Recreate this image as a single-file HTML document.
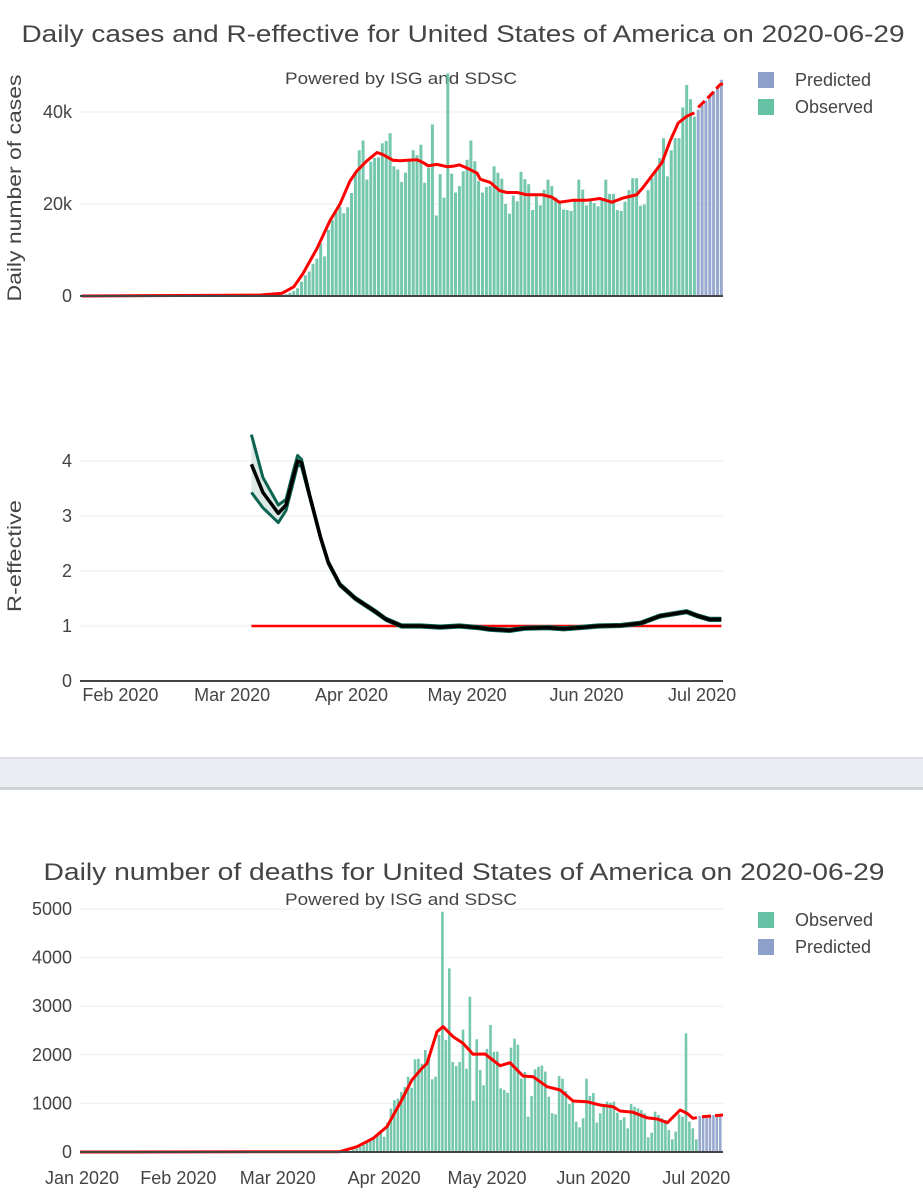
<!DOCTYPE html>
<html><head><meta charset="utf-8">
<style>
html,body{margin:0;padding:0;background:#fff;}
svg{display:block;font-family:"Liberation Sans",Arial,sans-serif;}
</style></head>
<body>
<svg id="chart" width="923" height="1200" viewBox="0 0 923 1200" xmlns="http://www.w3.org/2000/svg">
  <rect x="0" y="0" width="923" height="1200" fill="#fff"/>
  <defs>
    <clipPath id="clipTop"><rect x="80" y="40" width="645" height="700"/></clipPath>
    <clipPath id="clipBot"><rect x="80" y="880" width="645" height="280"/></clipPath>
  </defs>
  <text x="463" y="42" text-anchor="middle" font-size="24" fill="#444" textLength="883" lengthAdjust="spacingAndGlyphs">Daily cases and R-effective for United States of America on 2020-06-29</text>
  <text x="401" y="84" text-anchor="middle" font-size="17" fill="#444" textLength="232" lengthAdjust="spacingAndGlyphs">Powered by ISG and SDSC</text>
  <text transform="translate(21,188) rotate(-90)" text-anchor="middle" font-size="19" fill="#444" textLength="227" lengthAdjust="spacingAndGlyphs">Daily number of cases</text>
  <text transform="translate(21,556) rotate(-90)" text-anchor="middle" font-size="19" fill="#444" textLength="112" lengthAdjust="spacingAndGlyphs">R-effective</text>
  <g>
    <rect x="758" y="72" width="16" height="16" fill="#8da0cb"/>
    <text x="795" y="86" font-size="18" fill="#444">Predicted</text>
    <rect x="758" y="99" width="16" height="16" fill="#66c2a5"/>
    <text x="795" y="113" font-size="18" fill="#444">Observed</text>
  </g>
  <g id="topGrid"></g>
  <g id="topBars" clip-path="url(#clipTop)"></g>
  <g id="topLines" clip-path="url(#clipTop)"></g>
  <g id="rtG" clip-path="url(#clipTop)"></g>
  <g id="topAxes"></g>

  <g>
    <rect x="0" y="757" width="923" height="33" fill="#eaedf2"/>
    <rect x="0" y="757" width="923" height="2" fill="#dcdfe5"/>
    <rect x="0" y="787" width="923" height="3" fill="#cfd3da"/>
  </g>

  <text x="464" y="880" text-anchor="middle" font-size="24" fill="#444" textLength="841" lengthAdjust="spacingAndGlyphs">Daily number of deaths for United States of America on 2020-06-29</text>
  <text x="401" y="905" text-anchor="middle" font-size="17" fill="#444" textLength="232" lengthAdjust="spacingAndGlyphs">Powered by ISG and SDSC</text>
  <g>
    <rect x="758" y="912" width="16" height="16" fill="#66c2a5"/>
    <text x="795" y="926" font-size="18" fill="#444">Observed</text>
    <rect x="758" y="939" width="16" height="16" fill="#8da0cb"/>
    <text x="795" y="953" font-size="18" fill="#444">Predicted</text>
  </g>
  <g id="botGrid"></g>
  <g id="botBars" clip-path="url(#clipBot)"></g>
  <g id="botLines" clip-path="url(#clipBot)"></g>
  <g id="botAxes"></g>
</svg>
<script>
// ---------- data (day index = days since 2020-01-01) ----------
const casesStartDay = 70;
const casesObserved = [0.05,0.08,0.1,0.2,0.4,0.7,1.1,1.7,3.1,4.5,5.3,7,8.1,
 11.4,8.6,14.4,16.5,18.3,19.4,18,19.3,22.4,26.6,
 31.7,33.8,25.3,29.2,30,30.1,33.2,33.7,35.4,28.2,
 27.5,24.8,26.8,29.3,31.7,30.6,32.9,24.6,27.9,37.3,
 17.5,26.5,21.4,48.4,26.6,22.5,23.9,27.1,29.6,33.8,
 29.3,25,22.5,23.7,
 23.9,28.2,26.8,25.5,20,17.9,21.8,20.6,27,25.4,24.3,18.7,21.7,19.7,23.1,25.3,23.9,21.4,20.3,18.8,18.7,18.5,21.1,25.3,23.1,19.7,20.8,20.2,19.5,21.1,25.3,22.2,22.2,18.7,18.5,20.5,23,25.6,25.6,
 19.6,19.9,23,25.6,27.4,30,34.3,26,31.7,34.3,34.3,41,45.9,42.8,39];
const casesPredStartDay = 181;
const casesPredicted = [40.5,41.5,42.5,43.5,44.5,45.5,47];
const casesSmoothDays = [21,67,73,76,78.4,82,85.4,88,90.6,92.4,95,97.6,99,101.8,103.6,105.4,108,109.6,110.9,113.2,115.8,117.3,119,121,123.6,124.4,127,129.5,131.4,134,136.5,140.5,143,145,148.5,152,155.5,158.6,161.5,165,166.7,169.3,171.6,173.7,175.8,178.1,180];
const casesSmoothVals = [0,0.2,0.6,2,4.9,10.3,16.4,20,25,27.2,29.4,31.2,30.8,29.5,29.4,29.5,29.6,29,28.3,28.6,28.1,28.2,28.5,27.8,26.7,25.4,24.7,22.9,22.5,22.5,22,22,21.5,20.4,20.8,20.8,21.2,20.4,21.3,22,23.6,26.5,29,33.7,37.6,39.1,39.8];
const casesPredSmoothDays = [181,184,186.6,187.4];
const casesPredSmoothVals = [41,43.5,45.9,46.2];
const casesTicks = [0,20,40];
const casesTickLabels = ["0","20k","40k"];

const rtDays = [65,68,72,74,76,77,78,80,83,85,88,92,97,100,104,109,114,119,124,127,132,136,142,146,150,155,161,166,171,178,181,184,187];
const rtMedian = [3.94,3.43,3.05,3.2,3.75,4.0,3.97,3.4,2.6,2.15,1.75,1.5,1.27,1.12,1.0,1.0,0.98,1.0,0.97,0.94,0.92,0.96,0.97,0.95,0.97,1.0,1.01,1.05,1.18,1.26,1.18,1.12,1.12];
const rtHigh = [4.48,3.7,3.2,3.3,3.85,4.1,4.03,3.43,2.62,2.17,1.77,1.52,1.29,1.14,1.02,1.02,1.0,1.02,0.99,0.96,0.94,0.98,0.99,0.97,0.99,1.02,1.03,1.07,1.2,1.28,1.2,1.14,1.14];
const rtLow = [3.43,3.15,2.88,3.1,3.65,3.93,3.9,3.37,2.58,2.13,1.73,1.48,1.25,1.1,0.98,0.98,0.96,0.98,0.95,0.92,0.9,0.94,0.95,0.93,0.95,0.98,0.99,1.03,1.16,1.24,1.16,1.1,1.1];
const rtThreshold = 1;
const rtTicks = [0,1,2,3,4];
const topMonthDays = [31,60,91,121,152,182];
const topMonthLabels = ["Feb 2020","Mar 2020","Apr 2020","May 2020","Jun 2020","Jul 2020"];

const deathsStartDay = 82;
const deathsObserved = [55,75,110,144,192,233,281,350,418,315,
 600,895,1066,1100,1235,1337,1550,1324,1907,1920,
 1817,2099,1996,1495,1550,2407,4945,2305,3779,1852,
 1770,1852,2518,1715,3196,1056,2318,1687,1372,2119,
 2613,2064,2064,1310,1276,1221,2146,2332,2209,1509,
 1646,727,1152,1701,1756,1777,1654,1138,796,775,
 1564,1509,1255,988,1036,624,508,693,1509,1152,
 1214,604,796,947,1035,1015,1035,809,658,713,
 487,988,933,898,864,796,302,398,830,761,
 693,658,453,261,419,775,727,2442,624,487,261];
const deathsPredStartDay = 183;
const deathsPredicted = [740,745,750,755,760,765,770];
const deathsSmoothDays = [2.3,78.1,83.1,87.8,91.8,95.6,99.1,102,103.5,106.4,108.2,111.1,114,116.9,120.4,124.8,127.7,131.5,134.4,138.5,142.3,146.1,150.1,153.9,157.7,159.8,163.6,167.6,170.6,173.6,177.3,179.3,181,182.2];
const deathsSmoothVals = [0,7,110,281,521,1001,1481,1722,1824,2476,2579,2373,2236,2010,2016,1776,1838,1564,1550,1344,1275,1049,1036,967,933,844,816,706,679,603,864,796,693,706];
const deathsPredSmoothDays = [183.7,189.8];
const deathsPredSmoothVals = [727,761];
const deathsTicks = [0,1000,2000,3000,4000,5000];
const botMonthDays = [0,31,60,91,121,152,182];
const botMonthLabels = ["Jan 2020","Feb 2020","Mar 2020","Apr 2020","May 2020","Jun 2020","Jul 2020"];

// ---------- scales ----------
const xTop = d => 1 + 3.852 * d;
const yCases = v => 296 - v * 4.6;
const yRt = v => 681 - v * 55;
const xBot = d => 72 + 3.43 * d;
const yDeaths = v => 1152 - v * 0.0486;
const NS = "http://www.w3.org/2000/svg";
const FS = 18;
function mk(tag, attrs, parent){const e=document.createElementNS(NS,tag);for(const k in attrs)e.setAttribute(k,attrs[k]);parent.appendChild(e);return e;}
function pathFrom(days, vals, xs, ys){return days.map((d,i)=>(i?"L":"M")+xs(d).toFixed(1)+","+ys(vals[i]).toFixed(1)).join("");}
const G = id => document.getElementById(id);

// ---------- top chart: grid & axes ----------
casesTicks.forEach((t,i)=>{
  if(t>0){const l=mk("line",{x1:80,x2:723,y1:yCases(t),y2:yCases(t),stroke:"#eee","stroke-width":1},G("topGrid"));
  
  }
  const tx=mk("text",{x:72,y:yCases(t)+6,"text-anchor":"end","font-size":FS,fill:"#444"},G("topAxes"));
  tx.textContent=casesTickLabels[i];
  
  
});
const zc=mk("line",{x1:80,x2:723,y1:yCases(0),y2:yCases(0),stroke:"#444","stroke-width":2},G("topAxes"));



rtTicks.forEach(t=>{
  if(t>0){const l=mk("line",{x1:80,x2:723,y1:yRt(t),y2:yRt(t),stroke:"#eee","stroke-width":1},G("topGrid"));
  
  }
  const tx=mk("text",{x:72,y:yRt(t)+6,"text-anchor":"end","font-size":FS,fill:"#444"},G("topAxes"));
  tx.textContent=String(t);
  
  
});
const zr=mk("line",{x1:80,x2:723,y1:yRt(0),y2:yRt(0),stroke:"#444","stroke-width":2},G("topAxes"));


topMonthDays.forEach((d,i)=>{
  const tx=mk("text",{x:xTop(d),y:701,"text-anchor":"middle","font-size":FS,fill:"#444"},G("topAxes"));
  tx.textContent=topMonthLabels[i];
  
  
});

// ---------- top chart: bars ----------
casesObserved.forEach((v,i)=>{
  const d=casesStartDay+i, x=xTop(d);
  const r=mk("rect",{x:(x-1.5).toFixed(1),y:yCases(v).toFixed(1),width:3,height:(yCases(0)-yCases(v)).toFixed(1),fill:"#66c2a5","fill-opacity":0.9},G("topBars"));
  
  
});
casesPredicted.forEach((v,i)=>{
  const d=casesPredStartDay+i, x=xTop(d);
  const r=mk("rect",{x:(x-1.5).toFixed(1),y:yCases(v).toFixed(1),width:3,height:(yCases(0)-yCases(v)).toFixed(1),fill:"#8da0cb","fill-opacity":0.9},G("topBars"));
  
  
});
const cl=mk("path",{d:pathFrom(casesSmoothDays,casesSmoothVals,xTop,yCases),fill:"none",stroke:"#ff0000","stroke-width":3,"stroke-linejoin":"round"},G("topLines"));


const cp=mk("path",{d:pathFrom(casesPredSmoothDays,casesPredSmoothVals,xTop,yCases),fill:"none",stroke:"#ff0000","stroke-width":3,"stroke-dasharray":"9,4"},G("topLines"));



// ---------- Rt ----------
let band = pathFrom(rtDays,rtHigh,xTop,yRt);
band += rtDays.slice().reverse().map((d,i)=>"L"+xTop(d).toFixed(1)+","+yRt(rtLow[rtDays.length-1-i]).toFixed(1)).join("")+"Z";
const bd=mk("path",{d:band,fill:"#d5e4df","fill-opacity":0.8,stroke:"none"},G("rtG"));


const th=mk("line",{x1:xTop(rtDays[0]),x2:xTop(rtDays[rtDays.length-1]),y1:yRt(rtThreshold),y2:yRt(rtThreshold),stroke:"#ff0000","stroke-width":2.5},G("rtG"));


const hi=mk("path",{d:pathFrom(rtDays,rtHigh,xTop,yRt),fill:"none",stroke:"#0b6350","stroke-width":3,"stroke-linejoin":"round"},G("rtG"));


const lo=mk("path",{d:pathFrom(rtDays,rtLow,xTop,yRt),fill:"none",stroke:"#0b6350","stroke-width":3,"stroke-linejoin":"round"},G("rtG"));


const md=mk("path",{d:pathFrom(rtDays,rtMedian,xTop,yRt),fill:"none",stroke:"#000","stroke-width":3.5,"stroke-linejoin":"round"},G("rtG"));



// ---------- deaths chart ----------
deathsTicks.forEach(t=>{
  if(t>0){const l=mk("line",{x1:80,x2:723,y1:yDeaths(t),y2:yDeaths(t),stroke:"#eee","stroke-width":1},G("botGrid"));
  
  }
  const tx=mk("text",{x:72,y:yDeaths(t)+6,"text-anchor":"end","font-size":FS,fill:"#444"},G("botAxes"));
  tx.textContent=String(t);
  
  
});
const zd=mk("line",{x1:80,x2:723,y1:yDeaths(0),y2:yDeaths(0),stroke:"#444","stroke-width":2},G("botAxes"));


botMonthDays.forEach((d,i)=>{
  const tx=mk("text",{x:Math.max(xBot(d),82),y:1184,"text-anchor":"middle","font-size":FS,fill:"#444"},G("botAxes"));
  tx.textContent=botMonthLabels[i];
  
  
});
deathsObserved.forEach((v,i)=>{
  const d=deathsStartDay+i, x=xBot(d);
  const r=mk("rect",{x:(x-1.3).toFixed(1),y:yDeaths(v).toFixed(1),width:2.6,height:(yDeaths(0)-yDeaths(v)).toFixed(1),fill:"#66c2a5","fill-opacity":0.9},G("botBars"));
  
  
});
deathsPredicted.forEach((v,i)=>{
  const d=deathsPredStartDay+i, x=xBot(d);
  const r=mk("rect",{x:(x-1.3).toFixed(1),y:yDeaths(v).toFixed(1),width:2.6,height:(yDeaths(0)-yDeaths(v)).toFixed(1),fill:"#8da0cb","fill-opacity":0.9},G("botBars"));
  
  
});
const dl=mk("path",{d:pathFrom(deathsSmoothDays,deathsSmoothVals,xBot,yDeaths),fill:"none",stroke:"#ff0000","stroke-width":3,"stroke-linejoin":"round"},G("botLines"));


const dp=mk("path",{d:pathFrom(deathsPredSmoothDays,deathsPredSmoothVals,xBot,yDeaths),fill:"none",stroke:"#ff0000","stroke-width":3,"stroke-dasharray":"9,4"},G("botLines"));


</script>
</body></html>
